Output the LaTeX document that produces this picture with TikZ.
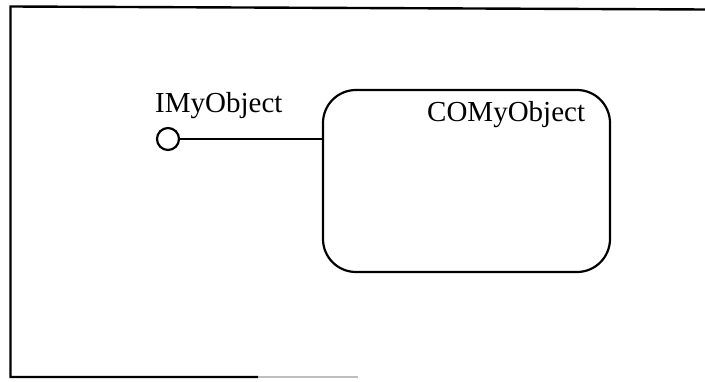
\documentclass[tikz,border=0pt]{standalone}
\usepackage{fontspec}
\setmainfont{Liberation Serif}
\begin{document}
\begin{tikzpicture}[x=1pt,y=-1pt,
  frameline/.style={line width=2.4pt,black},
  objbox/.style={draw,line width=2.2pt,rounded corners=33pt,minimum width=287pt,minimum height=182pt,inner sep=0pt},
  label/.style={font=\fontsize{29}{32}\selectfont,inner sep=0pt,anchor=base west},
  lollipop/.style={draw,circle,line width=2.2pt,minimum size=22pt,inner sep=0pt}]
  \useasboundingbox (0,0) rectangle (705,382);
  % open frame around the diagram
  \draw[frameline] (705,9.5) -- (10.5,6.5) -- (10.5,377) -- (258,377);
  \draw[line width=2pt,black!25] (258,377) -- (358,377);
  % component and its interface
  \node[objbox] (obj) at (466.5,181) {};
  \node[label] (objname) at (427,122) {COMyObject};
  \node[lollipop] (iface) at (168,139) {};
  \node[label] (ifname) at (155,113) {IMyObject};
  \draw[line width=2.2pt] (iface.east) -- (obj.west |- iface.east);
\end{tikzpicture}
\end{document}
